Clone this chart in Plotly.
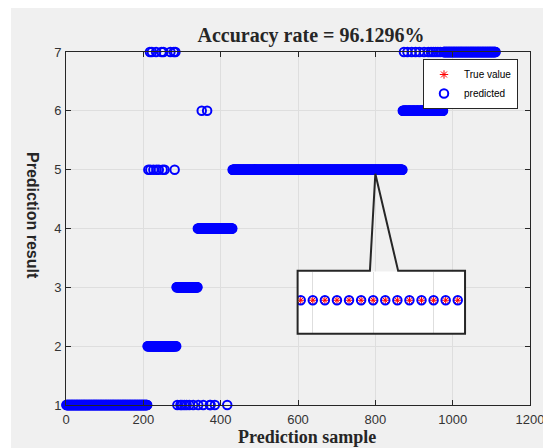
import numpy as np
import plotly.graph_objects as go

# ---------------- data ----------------
classes = [1, 2, 3, 4, 5, 6, 7]
class_sizes = [210, 75, 55, 90, 440, 105, 136]          # samples per true class (sorted)
error_samples = [217, 222, 233, 247, 252, 270, 279, 283,   # class 2 -> 7
                 213, 218, 226, 234, 240, 250, 255, 281,    # class 2 -> 5
                 288, 296, 300, 306, 312, 319, 329, 342, 355, 372, 374, 385, 417,  # -> 1
                 351, 365,                                   # class 4 -> 6
                 874, 883, 894, 904, 914, 926, 937, 944, 950, 956, 962, 968]  # class 6 -> 7
error_predicted = [7] * 8 + [5] * 8 + [1] * 13 + [6] * 2 + [7] * 12
x_ticks = [0, 200, 400, 600, 800, 1000, 1200]
y_ticks = [1, 2, 3, 4, 5, 6, 7]
inset_x_range = [793.75, 807.6]
inset_y_range = [4.892, 5.092]

true_labels = np.repeat(classes, class_sizes)
samples = np.arange(1, len(true_labels) + 1)
predicted = true_labels.copy()
predicted[np.array(error_samples) - 1] = error_predicted
accuracy = (predicted == true_labels).mean() * 100

# ---------------- figure ----------------
W, H = 543, 448
ML, MR, MT, MB = 66, 13, 52, 43
PW, PH = W - ML - MR, H - MT - MB


def px_x(p):
    return (p - ML) / PW


def px_y(p):
    return (H - MB - p) / PH


AX = "#262626"
GRID = "#dedede"
fig = go.Figure()

true_marker = dict(symbol="asterisk-open", size=7, color="red", line=dict(width=1, color="red"))
pred_marker = dict(symbol="circle-open", size=8.5, color="blue", line=dict(width=2, color="blue"))

fig.add_trace(go.Scatter(x=samples, y=true_labels, mode="markers", name="True value",
                         marker=true_marker, cliponaxis=False))
fig.add_trace(go.Scatter(x=samples, y=predicted, mode="markers", name="predicted",
                         marker=pred_marker, cliponaxis=False))
# inset (magnified view)
fig.add_trace(go.Scatter(x=samples, y=true_labels, mode="markers", showlegend=False,
                         xaxis="x2", yaxis="y2", marker=true_marker))
fig.add_trace(go.Scatter(x=samples, y=predicted, mode="markers", showlegend=False,
                         xaxis="x2", yaxis="y2", marker=pred_marker))

tickfont = dict(family="Liberation Sans, Arial, sans-serif", size=13, color="#333333")
fig.update_layout(
    width=W, height=H,
    margin=dict(l=ML, r=MR, t=MT, b=MB, autoexpand=False),
    paper_bgcolor="white", plot_bgcolor="white",
    title=dict(text="<b>%s</b>" % ("Accuracy rate = %.4f%%" % accuracy),
               font=dict(family="Liberation Serif, Times New Roman, serif", size=20, color=AX),
               x=px_x(311), xref="paper", xanchor="center",
               y=1 - 35 / H, yref="container", yanchor="middle"),
    xaxis=dict(range=[0, 1200], tickvals=x_ticks, ticks="inside", ticklen=5, tickcolor=AX,
               showline=True, linecolor=AX, linewidth=1, mirror="ticks",
               showgrid=True, gridcolor=GRID, zeroline=False, tickfont=tickfont,
               ticklabelstandoff=2, ticklabeloverflow="allow", automargin=False),
    yaxis=dict(range=[1, 7], tickvals=y_ticks, ticks="inside", ticklen=5, tickcolor=AX,
               showline=True, linecolor=AX, linewidth=1, mirror="ticks",
               showgrid=True, gridcolor=GRID, zeroline=False, tickfont=tickfont,
               ticklabelstandoff=1, automargin=False),
    xaxis2=dict(domain=[px_x(297.7), px_x(465)], anchor="y2", range=inset_x_range,
                dtick=5, showgrid=True, gridcolor=GRID, showticklabels=False, ticks="",
                zeroline=False, showline=False),
    yaxis2=dict(domain=[px_y(334), px_y(271.5)], anchor="x2", range=inset_y_range,
                showgrid=False, showticklabels=False, ticks="", zeroline=False, showline=False),
    legend=dict(x=px_x(518), xanchor="right", y=px_y(59), yanchor="top",
                bgcolor="white", bordercolor=AX, borderwidth=1,
                font=dict(family="Liberation Sans, Arial, sans-serif", size=10, color="black"),
                tracegroupgap=0),
    showlegend=True,
)

# gray figure background with the white strips at left and top
fig.add_shape(type="rect", xref="paper", yref="paper", layer="below",
              x0=px_x(11), x1=px_x(W + 5), y0=px_y(8), y1=px_y(H + 5),
              fillcolor="#f0f0f0", line=dict(width=0))

# callout outline of the magnified region (in main data coordinates)
fig.add_shape(type="path", xref="x", yref="y", layer="above",
              path="M 786 3.28 L 599 3.28 L 599 2.21 L 1032 2.21 L 1032 3.28 L 859 3.28 L 800 4.93 Z",
              line=dict(color=AX, width=2), fillcolor="rgba(0,0,0,0)")

fig.add_annotation(text="<b>Prediction sample</b>", xref="paper", yref="paper",
                   x=px_x(307), y=px_y(437), xanchor="center", yanchor="middle",
                   showarrow=False,
                   font=dict(family="Liberation Serif, Times New Roman, serif", size=18, color=AX))
fig.add_annotation(text="<b>Prediction result</b>", xref="paper", yref="paper",
                   x=px_x(33), y=px_y(215), xanchor="center", yanchor="middle",
                   showarrow=False, textangle=90,
                   font=dict(family="Liberation Sans, Arial, sans-serif", size=16, color=AX))

fig.write_html("out.html")
